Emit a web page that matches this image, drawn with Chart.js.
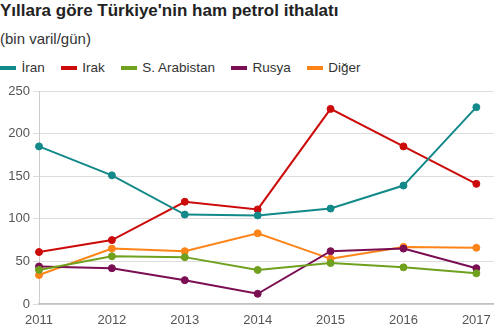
<!DOCTYPE html>
<html>
<head>
<meta charset="utf-8">
<script src="https://cdn.jsdelivr.net/npm/chart.js@4"></script>
<style>
  html, body { margin: 0; padding: 0; background: #fff; }
  body { width: 500px; height: 334px; position: relative; overflow: hidden; font-family: "Liberation Sans", Arial, sans-serif; color: #222; }
  #title { position: absolute; left: 0; top: 1px; font-size: 17px; font-weight: bold; color: #222; white-space: nowrap; }
  #subtitle { position: absolute; left: 0; top: 30px; font-size: 15px; color: #333; white-space: nowrap; }
  #legend { position: absolute; left: 0; top: 60px; display: flex; align-items: center; font-size: 13.5px; color: #333; white-space: nowrap; }
  .item { display: flex; align-items: center; margin-right: 16px; }
  .sw { width: 16px; height: 4px; margin-right: 5.5px; }
  #wrap { position: absolute; left: 0; top: 80px; width: 500px; height: 254px; }
</style>
</head>
<body>
<div id="title">Yıllara göre Türkiye'nin ham petrol ithalatı</div>
<div id="subtitle">(bin varil/gün)</div>
<div id="legend"></div>
<div id="wrap"><canvas id="c" width="500" height="254"></canvas></div>
<script>
const years = [2011, 2012, 2013, 2014, 2015, 2016, 2017];
const seriesNames = ["İran", "Irak", "S. Arabistan", "Rusya", "Diğer"];
const iran = [185, 151, 105, 104, 112, 139, 231];
const irak = [61, 75, 120, 111, 229, 185, 141];
const sArabistan = [40, 56, 55, 40, 48, 43, 36];
const rusya = [44, 42, 28, 12, 62, 65, 42];
const diger = [34, 65, 62, 83, 53, 67, 66];
const yTicks = [0, 50, 100, 150, 200, 250];
const colors = ["#13898a", "#cc0a0a", "#6fa01e", "#7b0d52", "#fd8418"];

const allSeries = [iran, irak, sArabistan, rusya, diger];

// HTML legend
const leg = document.getElementById('legend');
seriesNames.forEach((n, i) => {
  const it = document.createElement('div'); it.className = 'item';
  const sw = document.createElement('div'); sw.className = 'sw'; sw.style.background = colors[i];
  const tx = document.createElement('span'); tx.textContent = n;
  it.appendChild(sw); it.appendChild(tx); leg.appendChild(it);
});

const datasets = allSeries.map((vals, i) => ({
  label: seriesNames[i],
  data: years.map((y, j) => ({ x: y, y: vals[j] })),
  borderColor: colors[i],
  backgroundColor: colors[i],
  pointBackgroundColor: colors[i],
  pointBorderColor: colors[i],
  borderWidth: 2,
  pointRadius: 3.5,
  pointBorderWidth: 1,
  tension: 0,
  clip: false
}));

new Chart(document.getElementById('c'), {
  type: 'line',
  data: { datasets },
  options: {
    responsive: false,
    animation: false,
    events: [],
    layout: { padding: { top: 11, right: 3, left: 0, bottom: 0 } },
    plugins: { legend: { display: false }, title: { display: false }, tooltip: { enabled: false } },
    scales: {
      x: {
        type: 'linear',
        min: 2011,
        max: 2017.24,
        afterBuildTicks: (s) => { s.ticks = years.map(v => ({ value: v })); },
        afterFit: (s) => { s.height = 30; },
        grid: { display: false, drawTicks: false },
        border: { display: true, color: '#c0c0c0', width: 1.5 },
        ticks: {
          color: '#555',
          font: { family: 'Liberation Sans', size: 13 },
          padding: 9,
          maxRotation: 0,
          autoSkip: false,
          callback: (v) => String(v)
        }
      },
      y: {
        min: 0,
        max: 250,
        afterBuildTicks: (s) => { s.ticks = yTicks.map(v => ({ value: v })); },
        afterFit: (s) => { s.width = 39; },
        grid: { color: '#dddddd', lineWidth: 1, tickLength: 6 },
        border: { display: true, color: '#cccccc', width: 1 },
        ticks: {
          color: '#555',
          font: { family: 'Liberation Sans', size: 13 },
          padding: 3,
          callback: (v) => String(v)
        }
      }
    }
  }
});
</script>
</body>
</html>
